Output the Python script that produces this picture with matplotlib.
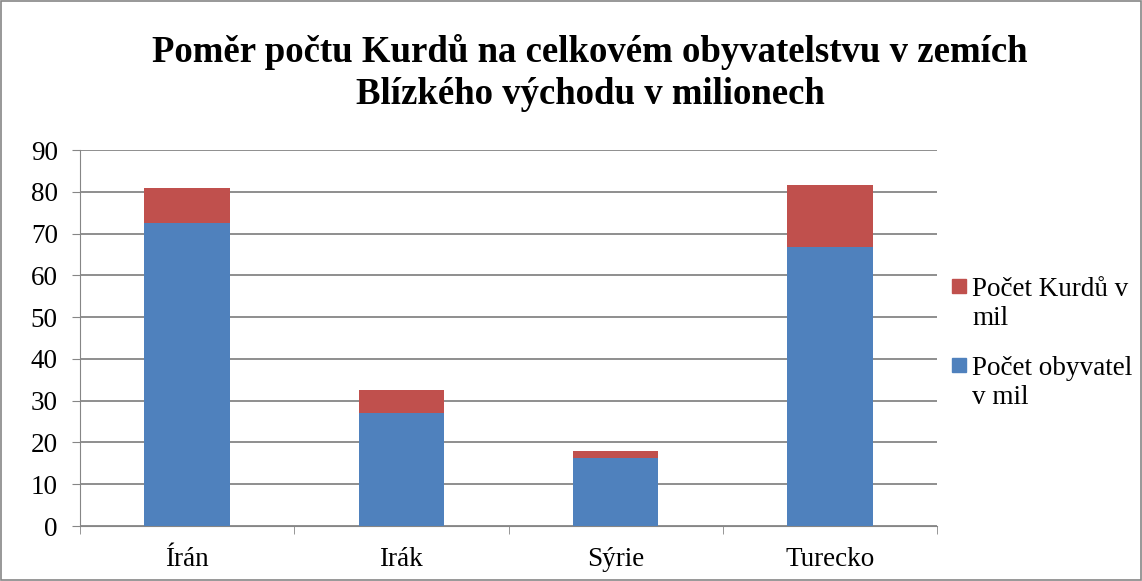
import matplotlib
matplotlib.use("Agg")
import matplotlib.pyplot as plt
import numpy as np

# values (millions)
countries = ["Írán", "Irák", "Sýrie", "Turecko"]
obyvatel = [72.6, 27.1, 16.3, 66.9]
kurdu = [8.2, 5.5, 1.7, 14.7]
labels = ["Počet Kurdů v\nmil", "Počet obyvatel\nv mil"]
colors = ['#c0504d', '#4f81bd']

W, H = 1142, 581
plt.rcParams['font.family'] = ['Liberation Serif', 'DejaVu Serif']

fig = plt.figure(figsize=(W / 100, H / 100), dpi=100)
ax = fig.add_axes([80 / W, 1 - 526 / H, 857 / W, 376 / H])

x = np.arange(len(countries))
ax.bar(x, obyvatel, width=0.4, color=colors[1], zorder=3)
ax.bar(x, kurdu, width=0.4, bottom=obyvatel, color=colors[0], zorder=3)

ax.set_xlim(-0.5, len(countries) - 0.5)
ax.set_ylim(0, 90)
ax.set_yticks(range(0, 91, 10))
ax.tick_params(axis='y', labelsize=19.5, length=6, color='#868686', pad=10)
ax.set_xticks(x)
ax.set_xticklabels(countries)
ax.set_xticks(np.arange(-0.5, len(countries)), minor=True)
ax.tick_params(axis='x', which='major', length=0, labelsize=19.5, pad=15)
ax.tick_params(axis='x', which='minor', length=6, color='#868686')
ax.grid(axis='y', color='#868686', linewidth=1.3, zorder=0)

for side in ['top', 'right']:
    ax.spines[side].set_visible(False)
ax.spines['left'].set_color('#868686')
ax.spines['bottom'].set_color('#868686')

# legend drawn by hand so the marker sits on the first text line
for i, (lab, col) in enumerate(zip(labels, colors)):
    base = 293 + i * 79
    fig.patches.append(plt.Rectangle((952 / W, 1 - base / H), 14 / W, 14 / H,
                                     transform=fig.transFigure, color=col))
    # baseline alignment uses the last line, so anchor one line lower
    fig.text(972 / W, 1 - (base + 32) / H, lab, ha='left', va='baseline',
             fontsize=19.5, linespacing=1.2)

fig.text(590 / W, 1 - 73 / H, "Poměr počtu Kurdů na celkovém obyvatelstvu v zemích\nBlízkého východu v milionech",
         ha='center', va='center', fontsize=26.5, fontweight='bold', linespacing=1.28)

fig.patches.append(plt.Rectangle((0.001, 0.001), 0.998, 0.998, transform=fig.transFigure,
                                 fill=False, edgecolor='#868686', linewidth=1.2))

fig.savefig('out.png', dpi=100)
